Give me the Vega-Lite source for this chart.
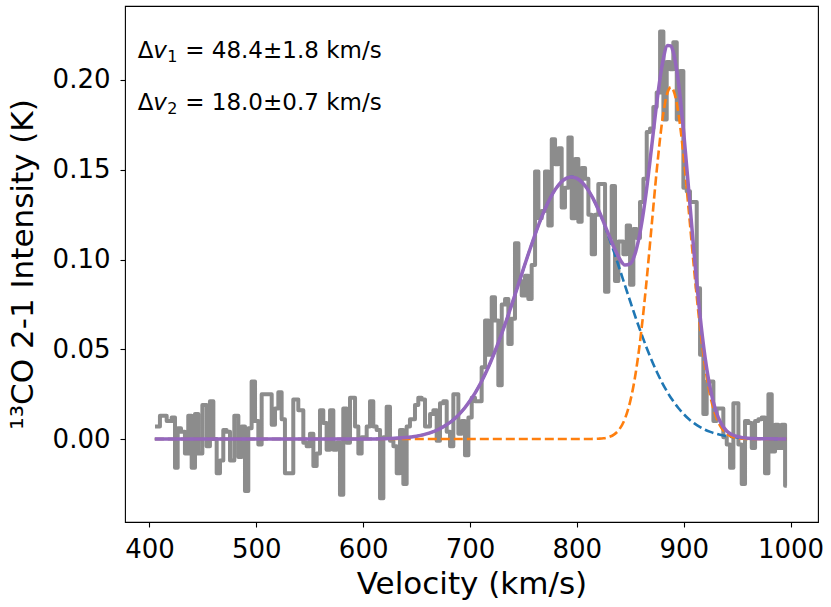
{
  "$schema": "https://vega.github.io/schema/vega-lite/v6.json",
  "width": 693,
  "height": 516,
  "autosize": "none",
  "padding": {"left": 125, "top": 6, "right": 13, "bottom": 85},
  "background": "white",
  "config": {
    "font": "DejaVu Sans",
    "view": {"stroke": "black", "strokeWidth": 1.1},
    "axis": {
      "grid": false,
      "domain": false,
      "tickColor": "black",
      "tickWidth": 1.1,
      "tickSize": 5,
      "labelColor": "black",
      "labelFont": "DejaVu Sans",
      "labelFontSize": 26,
      "titleColor": "black",
      "titleFont": "DejaVu Sans",
      "titleFontSize": 31,
      "titleFontWeight": "normal"
    }
  },
  "datasets": {
    "spec": [
      {"v": 405.2, "t": 0.007}, {"v": 409.8, "t": 0.013}, {"v": 416.1, "t": 0.010}, {"v": 420.8, "t": 0.012},
      {"v": 423.9, "t": -0.016}, {"v": 426.4, "t": 0.006}, {"v": 429.5, "t": 0.004}, {"v": 433.2, "t": -0.008},
      {"v": 436.3, "t": 0.013}, {"v": 439.5, "t": -0.016}, {"v": 442.6, "t": 0.014}, {"v": 445.7, "t": -0.008},
      {"v": 449.5, "t": 0.019}, {"v": 453.5, "t": -0.004}, {"v": 456.6, "t": 0.021}, {"v": 459.8, "t": 0.000},
      {"v": 462.9, "t": -0.019}, {"v": 466.0, "t": -0.012}, {"v": 469.1, "t": 0.005}, {"v": 472.2, "t": 0.004},
      {"v": 475.4, "t": -0.012}, {"v": 479.4, "t": 0.013}, {"v": 483.2, "t": -0.010}, {"v": 486.3, "t": 0.007},
      {"v": 489.4, "t": -0.029}, {"v": 492.5, "t": 0.006}, {"v": 495.6, "t": 0.032}, {"v": 498.8, "t": 0.010},
      {"v": 501.9, "t": -0.003}, {"v": 505.0, "t": 0.025}, {"v": 514.4, "t": 0.008}, {"v": 517.5, "t": 0.017},
      {"v": 520.6, "t": 0.026}, {"v": 523.7, "t": 0.011}, {"v": 526.8, "t": -0.019}, {"v": 534.6, "t": 0.022},
      {"v": 539.3, "t": 0.016}, {"v": 544.0, "t": -0.002}, {"v": 547.1, "t": -0.004}, {"v": 550.2, "t": 0.003},
      {"v": 553.4, "t": -0.015}, {"v": 556.5, "t": -0.008}, {"v": 559.6, "t": 0.016}, {"v": 562.7, "t": 0.009},
      {"v": 565.8, "t": -0.006}, {"v": 569.0, "t": 0.016}, {"v": 572.1, "t": -0.006}, {"v": 575.2, "t": -0.002},
      {"v": 578.3, "t": -0.031}, {"v": 581.4, "t": 0.017}, {"v": 584.6, "t": -0.002}, {"v": 587.7, "t": 0.023},
      {"v": 592.4, "t": 0.007}, {"v": 595.5, "t": -0.008}, {"v": 598.6, "t": 0.001}, {"v": 603.3, "t": 0.007},
      {"v": 606.4, "t": 0.021}, {"v": 609.5, "t": 0.007}, {"v": 612.6, "t": 0.005}, {"v": 615.8, "t": -0.033},
      {"v": 618.9, "t": 0.001}, {"v": 622.0, "t": 0.018}, {"v": 625.1, "t": -0.001}, {"v": 628.3, "t": -0.004},
      {"v": 631.4, "t": -0.019}, {"v": 634.5, "t": 0.005}, {"v": 637.6, "t": -0.025}, {"v": 640.7, "t": 0.007},
      {"v": 643.8, "t": 0.011}, {"v": 648.5, "t": 0.019}, {"v": 651.6, "t": 0.023}, {"v": 654.8, "t": 0.022},
      {"v": 657.9, "t": 0.007}, {"v": 662.6, "t": 0.014}, {"v": 665.7, "t": 0.016}, {"v": 668.8, "t": -0.001},
      {"v": 671.9, "t": 0.020}, {"v": 675.0, "t": 0.021}, {"v": 678.2, "t": 0.004}, {"v": 681.3, "t": -0.004},
      {"v": 684.4, "t": 0.025}, {"v": 689.1, "t": 0.003}, {"v": 692.2, "t": 0.010}, {"v": 695.3, "t": -0.009},
      {"v": 698.5, "t": 0.012}, {"v": 701.6, "t": 0.023}, {"v": 704.7, "t": 0.021}, {"v": 710.9, "t": 0.040},
      {"v": 714.1, "t": 0.066}, {"v": 717.2, "t": 0.047}, {"v": 720.3, "t": 0.079}, {"v": 723.4, "t": 0.066},
      {"v": 726.5, "t": 0.030}, {"v": 729.7, "t": 0.075}, {"v": 732.8, "t": 0.078}, {"v": 735.9, "t": 0.053},
      {"v": 739.0, "t": 0.067}, {"v": 742.1, "t": 0.109}, {"v": 745.3, "t": 0.088}, {"v": 748.4, "t": 0.080},
      {"v": 751.5, "t": 0.091}, {"v": 754.6, "t": 0.078}, {"v": 757.7, "t": 0.097}, {"v": 760.9, "t": 0.149},
      {"v": 764.0, "t": 0.123}, {"v": 767.1, "t": 0.127}, {"v": 770.2, "t": 0.149}, {"v": 773.3, "t": 0.119},
      {"v": 776.5, "t": 0.167}, {"v": 779.6, "t": 0.153}, {"v": 782.7, "t": 0.162}, {"v": 785.8, "t": 0.129},
      {"v": 788.9, "t": 0.140}, {"v": 792.1, "t": 0.168}, {"v": 795.2, "t": 0.123}, {"v": 798.3, "t": 0.156},
      {"v": 801.4, "t": 0.121}, {"v": 804.5, "t": 0.151}, {"v": 807.7, "t": 0.145}, {"v": 810.8, "t": 0.125},
      {"v": 813.9, "t": 0.103}, {"v": 817.0, "t": 0.125}, {"v": 820.1, "t": 0.142}, {"v": 826.4, "t": 0.082},
      {"v": 829.5, "t": 0.112}, {"v": 832.6, "t": 0.141}, {"v": 835.7, "t": 0.088}, {"v": 838.9, "t": 0.110},
      {"v": 843.5, "t": 0.103}, {"v": 846.7, "t": 0.119}, {"v": 849.8, "t": 0.086}, {"v": 852.9, "t": 0.117},
      {"v": 856.0, "t": 0.112}, {"v": 859.1, "t": 0.132}, {"v": 862.3, "t": 0.145}, {"v": 865.4, "t": 0.171},
      {"v": 868.5, "t": 0.173}, {"v": 871.6, "t": 0.185}, {"v": 874.7, "t": 0.193}, {"v": 877.9, "t": 0.227},
      {"v": 881.0, "t": 0.178}, {"v": 884.1, "t": 0.210}, {"v": 887.2, "t": 0.206}, {"v": 890.3, "t": 0.221},
      {"v": 893.5, "t": 0.178}, {"v": 896.6, "t": 0.205}, {"v": 899.7, "t": 0.140}, {"v": 902.8, "t": 0.138},
      {"v": 905.9, "t": 0.132}, {"v": 912.2, "t": 0.084}, {"v": 915.3, "t": 0.047}, {"v": 918.4, "t": 0.014},
      {"v": 921.5, "t": 0.032}, {"v": 927.8, "t": 0.010}, {"v": 930.9, "t": 0.017}, {"v": 937.1, "t": 0.001},
      {"v": 940.3, "t": -0.003}, {"v": 943.4, "t": -0.016}, {"v": 946.5, "t": 0.020}, {"v": 951.2, "t": -0.003},
      {"v": 954.3, "t": -0.025}, {"v": 957.4, "t": 0.010}, {"v": 960.6, "t": 0.009}, {"v": 963.7, "t": -0.005},
      {"v": 966.8, "t": 0.010}, {"v": 969.9, "t": 0.011}, {"v": 973.0, "t": 0.012}, {"v": 976.1, "t": -0.019},
      {"v": 979.3, "t": 0.025}, {"v": 982.4, "t": -0.007}, {"v": 985.5, "t": 0.008}, {"v": 988.6, "t": -0.005},
      {"v": 991.7, "t": 0.008}, {"v": 994.9, "t": -0.026}, {"v": 996.5, "t": -0.026}
    ],
    "fit": [
      {"v": 405, "c1": 0, "c2": 0, "tot": 0},
      {"v": 440, "c1": 0, "c2": 0, "tot": 0},
      {"v": 480, "c1": 0, "c2": 0, "tot": 0},
      {"v": 520, "c1": 0, "c2": 0, "tot": 0},
      {"v": 560, "c1": 0, "c2": 0, "tot": 0},
      {"v": 580, "c1": 0.00001, "c2": 0, "tot": 0.00001},
      {"v": 600, "c1": 0.00004, "c2": 0, "tot": 0.00004},
      {"v": 620, "c1": 0.0002, "c2": 0, "tot": 0.0002},
      {"v": 640, "c1": 0.0009, "c2": 0, "tot": 0.0009},
      {"v": 645, "c1": 0.0012, "c2": 0, "tot": 0.0012},
      {"v": 650, "c1": 0.0016, "c2": 0, "tot": 0.0016},
      {"v": 655, "c1": 0.0022, "c2": 0, "tot": 0.0022},
      {"v": 660, "c1": 0.0030, "c2": 0, "tot": 0.0030},
      {"v": 665, "c1": 0.0040, "c2": 0, "tot": 0.0040},
      {"v": 670, "c1": 0.0052, "c2": 0, "tot": 0.0052},
      {"v": 675, "c1": 0.0068, "c2": 0, "tot": 0.0068},
      {"v": 680, "c1": 0.0087, "c2": 0, "tot": 0.0087},
      {"v": 685, "c1": 0.0110, "c2": 0, "tot": 0.0110},
      {"v": 690, "c1": 0.0139, "c2": 0, "tot": 0.0139},
      {"v": 695, "c1": 0.0173, "c2": 0, "tot": 0.0173},
      {"v": 700, "c1": 0.0213, "c2": 0, "tot": 0.0213},
      {"v": 705, "c1": 0.0259, "c2": 0, "tot": 0.0259},
      {"v": 710, "c1": 0.0312, "c2": 0, "tot": 0.0312},
      {"v": 715, "c1": 0.0372, "c2": 0, "tot": 0.0372},
      {"v": 720, "c1": 0.0439, "c2": 0, "tot": 0.0439},
      {"v": 725, "c1": 0.0513, "c2": 0, "tot": 0.0513},
      {"v": 730, "c1": 0.0593, "c2": 0, "tot": 0.0593},
      {"v": 735, "c1": 0.0677, "c2": 0, "tot": 0.0677},
      {"v": 740, "c1": 0.0766, "c2": 0, "tot": 0.0766},
      {"v": 745, "c1": 0.0856, "c2": 0, "tot": 0.0856},
      {"v": 750, "c1": 0.0948, "c2": 0, "tot": 0.0948},
      {"v": 755, "c1": 0.1038, "c2": 0, "tot": 0.1038},
      {"v": 760, "c1": 0.1124, "c2": 0, "tot": 0.1124},
      {"v": 765, "c1": 0.1205, "c2": 0, "tot": 0.1205},
      {"v": 770, "c1": 0.1278, "c2": 0, "tot": 0.1278},
      {"v": 775, "c1": 0.1341, "c2": 0, "tot": 0.1341},
      {"v": 780, "c1": 0.1392, "c2": 0, "tot": 0.1392},
      {"v": 785, "c1": 0.1429, "c2": 0, "tot": 0.1429},
      {"v": 790, "c1": 0.1452, "c2": 0, "tot": 0.1452},
      {"v": 795, "c1": 0.1460, "c2": 0, "tot": 0.1460},
      {"v": 800, "c1": 0.1452, "c2": 0, "tot": 0.1452},
      {"v": 805, "c1": 0.1429, "c2": 0, "tot": 0.1429},
      {"v": 810, "c1": 0.1392, "c2": 0, "tot": 0.1392},
      {"v": 815, "c1": 0.1341, "c2": 0.0001, "tot": 0.1342},
      {"v": 820, "c1": 0.1278, "c2": 0.0002, "tot": 0.1280},
      {"v": 825, "c1": 0.1205, "c2": 0.0004, "tot": 0.1209},
      {"v": 830, "c1": 0.1124, "c2": 0.0011, "tot": 0.1135},
      {"v": 835, "c1": 0.1038, "c2": 0.0026, "tot": 0.1064},
      {"v": 840, "c1": 0.0948, "c2": 0.0056, "tot": 0.1004},
      {"v": 845, "c1": 0.0856, "c2": 0.0113, "tot": 0.0969},
      {"v": 850, "c1": 0.0766, "c2": 0.0211, "tot": 0.0977},
      {"v": 855, "c1": 0.0677, "c2": 0.0365, "tot": 0.1042},
      {"v": 860, "c1": 0.0593, "c2": 0.0585, "tot": 0.1178},
      {"v": 865, "c1": 0.0513, "c2": 0.0866, "tot": 0.1379},
      {"v": 870, "c1": 0.0439, "c2": 0.1189, "tot": 0.1628},
      {"v": 875, "c1": 0.0372, "c2": 0.1510, "tot": 0.1882},
      {"v": 880, "c1": 0.0312, "c2": 0.1776, "tot": 0.2088},
      {"v": 885, "c1": 0.0259, "c2": 0.1933, "tot": 0.2192},
      {"v": 888, "c1": 0.0230, "c2": 0.1960, "tot": 0.2190},
      {"v": 890, "c1": 0.0213, "c2": 0.1948, "tot": 0.2161},
      {"v": 895, "c1": 0.0173, "c2": 0.1817, "tot": 0.1990},
      {"v": 900, "c1": 0.0139, "c2": 0.1569, "tot": 0.1708},
      {"v": 905, "c1": 0.0110, "c2": 0.1255, "tot": 0.1365},
      {"v": 910, "c1": 0.0087, "c2": 0.0929, "tot": 0.1016},
      {"v": 915, "c1": 0.0068, "c2": 0.0636, "tot": 0.0704},
      {"v": 920, "c1": 0.0052, "c2": 0.0404, "tot": 0.0456},
      {"v": 925, "c1": 0.0040, "c2": 0.0237, "tot": 0.0277},
      {"v": 930, "c1": 0.0030, "c2": 0.0129, "tot": 0.0159},
      {"v": 935, "c1": 0.0022, "c2": 0.0065, "tot": 0.0087},
      {"v": 940, "c1": 0.0016, "c2": 0.0030, "tot": 0.0046},
      {"v": 945, "c1": 0.0012, "c2": 0.0013, "tot": 0.0025},
      {"v": 950, "c1": 0.0009, "c2": 0.0005, "tot": 0.0014},
      {"v": 955, "c1": 0.0006, "c2": 0.0002, "tot": 0.0008},
      {"v": 960, "c1": 0.0004, "c2": 0.0001, "tot": 0.0005},
      {"v": 980, "c1": 0.0001, "c2": 0, "tot": 0.0001},
      {"v": 996, "c1": 0, "c2": 0, "tot": 0}
    ],
    "notes": [
      {"v": 389, "k": 0.2121, "sub": "1", "rest": "= 48.4±1.8 km/s"},
      {"v": 389, "k": 0.1832, "sub": "2", "rest": "= 18.0±0.7 km/s"}
    ]
  },
  "encoding": {
    "x": {
      "field": "v",
      "type": "quantitative",
      "scale": {"domain": [377.1, 1025.7], "nice": false, "zero": false},
      "axis": {"title": "Velocity (km/s)", "values": [400, 500, 600, 700, 800, 900, 1000], "format": "d", "labelPadding": 9, "titlePadding": 7}
    }
  },
  "layer": [
    {
      "data": {"name": "spec"},
      "mark": {"type": "line", "interpolate": "step-after", "color": "#8c8c8c", "strokeWidth": 4, "strokeJoin": "round"},
      "encoding": {
        "y": {
          "field": "t",
          "type": "quantitative",
          "scale": {"domain": [-0.0462, 0.2412], "nice": false, "zero": false},
          "axis": {"title": "¹³CO 2-1 Intensity (K)", "values": [0, 0.05, 0.1, 0.15, 0.2], "format": ".2f", "labelPadding": 10, "titlePadding": 13}
        }
      }
    },
    {
      "data": {"name": "fit"},
      "mark": {"type": "line", "interpolate": "monotone", "color": "#1f77b4", "strokeWidth": 2.6, "strokeDash": [9, 4]},
      "encoding": {"y": {"field": "c1", "type": "quantitative"}}
    },
    {
      "data": {"name": "fit"},
      "mark": {"type": "line", "interpolate": "monotone", "color": "#ff7f0e", "strokeWidth": 2.6, "strokeDash": [9, 4]},
      "encoding": {"y": {"field": "c2", "type": "quantitative"}}
    },
    {
      "data": {"name": "fit"},
      "mark": {"type": "line", "interpolate": "monotone", "color": "#9467bd", "strokeWidth": 3.5},
      "encoding": {"y": {"field": "tot", "type": "quantitative"}}
    },
    {
      "data": {"name": "notes"},
      "mark": {"type": "text", "text": "Δ", "align": "left", "baseline": "alphabetic", "fontSize": 23, "color": "black"},
      "encoding": {"y": {"field": "k", "type": "quantitative"}}
    },
    {
      "data": {"name": "notes"},
      "mark": {"type": "text", "text": "v", "align": "left", "baseline": "alphabetic", "fontSize": 23, "fontStyle": "italic", "dx": 15.5, "color": "black"},
      "encoding": {"y": {"field": "k", "type": "quantitative"}}
    },
    {
      "data": {"name": "notes"},
      "mark": {"type": "text", "align": "left", "baseline": "alphabetic", "fontSize": 16, "dx": 29.5, "dy": 4, "color": "black"},
      "encoding": {"y": {"field": "k", "type": "quantitative"}, "text": {"field": "sub"}}
    },
    {
      "data": {"name": "notes"},
      "mark": {"type": "text", "align": "left", "baseline": "alphabetic", "fontSize": 23, "dx": 47.5, "color": "black"},
      "encoding": {"y": {"field": "k", "type": "quantitative"}, "text": {"field": "rest"}}
    }
  ]
}
